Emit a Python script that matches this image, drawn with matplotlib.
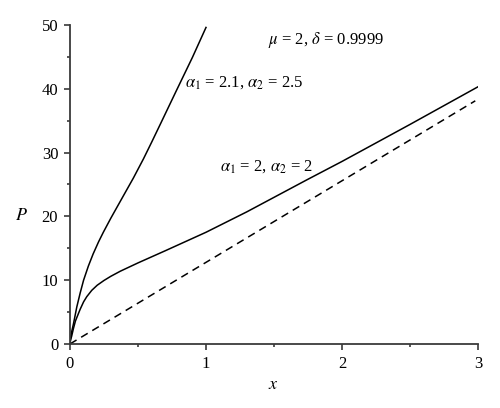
import matplotlib
matplotlib.use("Agg")
import matplotlib.pyplot as plt
from matplotlib.ticker import MultipleLocator

plt.rcParams["font.family"] = ["Liberation Serif", "DejaVu Serif"]
plt.rcParams["mathtext.fontset"] = "stix"

# curve alpha1 = 2.1, alpha2 = 2.5
x_a = [0.0, 0.004, 0.01, 0.025, 0.05, 0.075, 0.1, 0.135, 0.17, 0.21, 0.245,
       0.3, 0.35, 0.4, 0.466, 0.54, 0.6, 0.67, 0.78, 0.9, 1.0]
p_a = [0.0, 0.9, 1.7, 3.1, 5.8, 8.0, 10.0, 12.2, 14.1, 16.0, 17.5,
       19.7, 21.6, 23.5, 26.0, 29.0, 31.6, 34.7, 39.6, 44.9, 49.6]

# curve alpha1 = 2, alpha2 = 2
x_b = [0.0, 0.004, 0.012, 0.025, 0.04, 0.074, 0.1, 0.123, 0.16, 0.2, 0.25,
       0.3, 0.37, 0.5, 0.7, 1.0, 1.15, 1.3, 1.74, 2.0, 2.5, 3.0]
p_b = [0.0, 0.6, 1.2, 2.4, 3.6, 5.4, 6.6, 7.4, 8.4, 9.2, 9.95,
       10.6, 11.4, 12.7, 14.6, 17.5, 19.1, 20.7, 25.7, 28.6, 34.4, 40.3]

# dashed reference line
x_d = [0.0, 2.98]
p_d = [0.0, 38.1]

fig = plt.figure(figsize=(5.0, 4.08), dpi=100)
ax = fig.add_axes([0.14, 0.157, 0.816, 0.782])

ax.plot(x_a, p_a, color="black", lw=1.1)
ax.plot(x_b, p_b, color="black", lw=1.1)
ax.plot(x_d, p_d, color="black", lw=1.1, ls=(0, (5, 3.5)))

ax.set_xlim(0, 3)
ax.set_ylim(0, 50)
ax.xaxis.set_major_locator(MultipleLocator(1))
ax.xaxis.set_minor_locator(MultipleLocator(0.5))
ax.yaxis.set_major_locator(MultipleLocator(10))
ax.yaxis.set_minor_locator(MultipleLocator(5))

for s in ("top", "right"):
    ax.spines[s].set_visible(False)
for s in ("left", "bottom"):
    ax.spines[s].set_color("#3a3a3a")
    ax.spines[s].set_linewidth(1.3)
ax.tick_params(which="major", direction="out", length=4.5, width=1.2,
               color="#3a3a3a", labelsize=12, pad=4)
ax.tick_params(which="minor", direction="out", length=2.5, width=1.2,
               color="#3a3a3a")

ax.set_xlabel("$x$", fontsize=13)
ax.xaxis.set_label_coords(0.4975, -0.10)
ax.set_ylabel("$P$", fontsize=13, rotation=0, va="center", ha="center")
ax.yaxis.set_label_coords(-0.118, 0.404)

ax.text(1.455, 47.6, r"$\mu$ = 2, $\delta$ = 0.9999", fontsize=12,
        ha="left", va="center")
ax.text(0.845, 40.9, r"$\alpha_1$ = 2.1, $\alpha_2$ = 2.5", fontsize=12,
        ha="left", va="center")
ax.text(1.10, 27.8, r"$\alpha_1$ = 2, $\alpha_2$ = 2", fontsize=12,
        ha="left", va="center")

fig.savefig("out.png", dpi=100)
